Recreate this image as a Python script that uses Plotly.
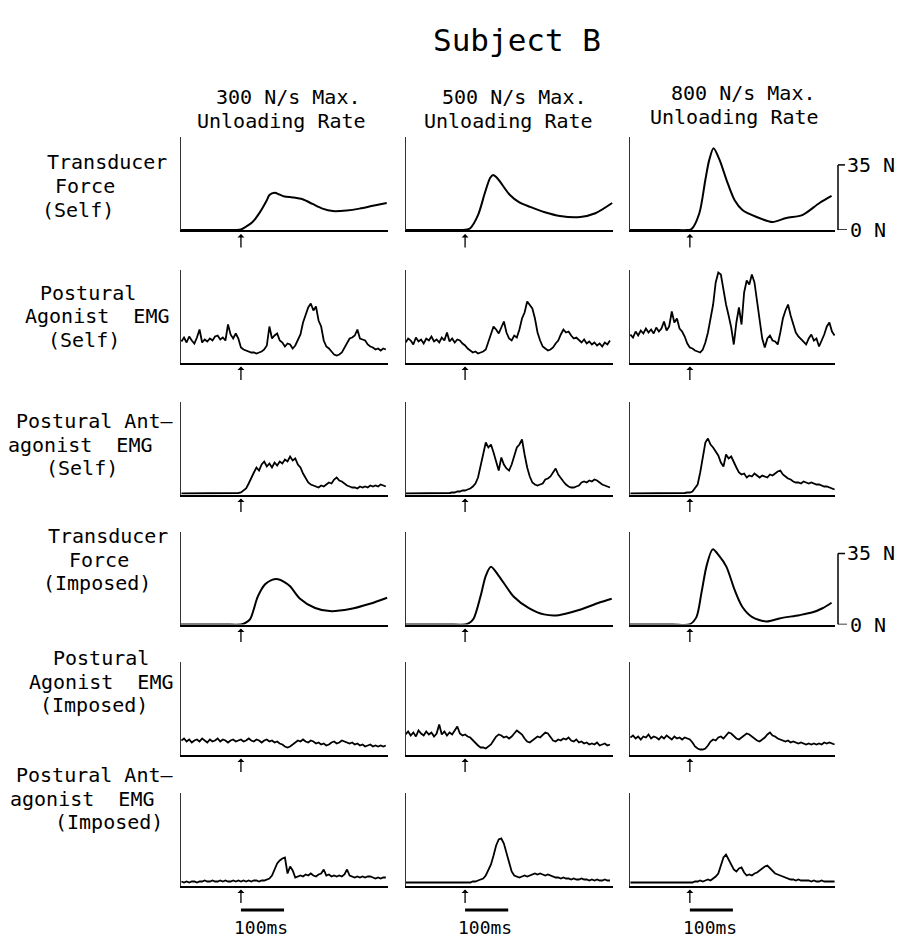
import plotly.graph_objects as go

# ------------------------------------------------------------------ data
title_text = "Subject B"
col_rates = ["300 N/s Max.", "500 N/s Max.", "800 N/s Max."]
col_sub = "Unloading Rate"
row_labels = [
    ["Transducer", "Force", "(Self)"],
    ["Postural", "Agonist  EMG", "(Self)"],
    ["Postural Ant\u2014", "agonist  EMG", "(Self)"],
    ["Transducer", "Force", "(Imposed)"],
    ["Postural", "Agonist  EMG", "(Imposed)"],
    ["Postural Ant\u2014", "agonist  EMG", "(Imposed)"],
]
scale_bar_ms = [0, 100]
scale_bar_label = "100ms"
force_scale_n = [0, 35]
force_scale_labels = ["0 N", "35 N"]

# transducer force (N), time in ms relative to unloading onset
force_self_300_t = [-139, -60, -10, 0, 10, 27, 43, 60, 66, 78, 90, 101, 120, 143, 166, 189, 213, 245, 275, 306, 338]
force_self_300_n = [0, 0, 0, 0.3, 1.5, 4.3, 9.2, 16, 18.8, 20, 19, 18, 17.5, 16.5, 14, 11.5, 10.2, 10.5, 11.5, 13, 14.5]
force_self_500_t = [-137, -40, -5, 5, 12, 30, 46, 58, 65, 72, 81, 104, 125, 151, 185, 220, 267, 302, 341]
force_self_500_n = [0, 0, 0, 0.3, 1, 8, 20, 28, 29.6, 28.5, 26, 18.8, 15, 12.4, 9.5, 7.5, 7, 9, 14.5]
force_self_800_t = [-139, -40, -5, 4, 22, 36, 45, 55, 69, 85, 104, 122, 155, 192, 224, 261, 301, 329]
force_self_800_n = [0, 0, 0, 0.5, 9, 27, 37.7, 44, 37.7, 27, 16, 10.8, 7, 4.3, 6.5, 8, 14.5, 18.3]
force_imp_300_t = [-139, -40, 0, 8, 21, 39, 56, 72, 86, 100, 114, 137, 172, 206, 253, 299, 339]
force_imp_300_n = [0, 0, 0, 0.5, 2.5, 13.7, 19.8, 22, 22.3, 21, 18.8, 12.7, 8.1, 6.6, 7.6, 10.2, 13.2]
force_imp_500_t = [-137, -40, 0, 8, 20, 36, 48, 60, 78, 113, 148, 183, 217, 264, 310, 340]
force_imp_500_n = [0, 0, 0, 0.5, 3, 14, 24, 28.4, 24, 13.7, 8.1, 5, 4.6, 7.1, 10.7, 12.7]
force_imp_800_t = [-139, -40, -1, 15, 27, 39, 53, 69, 85, 104, 122, 145, 178, 208, 254, 285, 308, 329]
force_imp_800_n = [0, 0, 0, 3.5, 15.7, 29, 37, 33.5, 28.4, 17, 8.6, 3.6, 1.5, 3, 4.6, 6, 8, 10.7]

# rectified EMG (arbitrary units), sampled every 6 ms
t_emg = list(range(-138, 337, 6))
agon_self_300 = [21, 25, 20, 26, 22, 19, 25, 33, 20, 23,
                 21, 24, 22, 26, 27, 23, 25, 22, 38, 28,
                 24, 29, 24, 15, 13, 12, 11, 10, 10, 9,
                 10, 11, 13, 17, 36, 24, 27, 29, 22, 20,
                 16, 19, 18, 14, 17, 22, 28, 40, 47, 55,
                 59, 52, 56, 42, 36, 22, 16, 14, 11, 8,
                 7, 8, 10, 15, 20, 24, 25, 27, 33, 24,
                 23, 22, 18, 16, 15, 13, 14, 12, 14, 13]
agon_self_500 = [20, 24, 22, 18, 25, 21, 23, 19, 24, 22,
                 26, 21, 23, 20, 25, 22, 30, 21, 24, 20,
                 23, 22, 19, 17, 14, 12, 10, 11, 9, 10,
                 11, 13, 20, 27, 36, 33, 29, 35, 41, 30,
                 24, 22, 27, 25, 33, 44, 50, 61, 57, 54,
                 44, 30, 22, 16, 14, 12, 13, 15, 19, 22,
                 28, 33, 30, 31, 27, 24, 25, 22, 20, 23,
                 19, 21, 18, 20, 17, 19, 16, 20, 18, 22]
agon_self_800 = [28, 25, 31, 27, 32, 29, 34, 30, 33, 29,
                 35, 31, 34, 41, 32, 36, 51, 40, 44, 34,
                 31, 26, 19, 15, 14, 12, 11, 10, 13, 20,
                 30, 44, 58, 80, 90, 88, 72, 58, 47, 35,
                 18, 40, 55, 38, 70, 82, 78, 88, 80, 62,
                 45, 24, 15, 24, 27, 22, 21, 18, 30, 44,
                 52, 58, 47, 38, 30, 26, 23, 20, 18, 24,
                 28, 22, 24, 16, 22, 28, 36, 40, 31, 27]
antag_self_300 = [1, 1, 1, 1, 1, 1, 1, 1, 1, 1,
                  1, 1, 1, 1, 1, 1, 1, 1, 1, 1,
                  1, 1, 1.5, 2, 4, 6, 11, 17, 22, 27,
                  24, 30, 33, 28, 31, 27, 32, 29, 33, 31,
                  35, 33, 38, 34, 36, 30, 27, 21, 16, 12,
                  10, 9, 8, 7, 9, 8, 10, 12, 11, 15,
                  17, 14, 13, 11, 9, 8, 7, 7, 6, 8,
                  7, 8, 7, 9, 8, 9, 8, 10, 9, 8]
antag_self_500 = [1, 1, 1, 1, 1, 1, 1, 1, 1, 1,
                  1, 1, 1, 1, 1, 1, 1, 1.5, 2, 2,
                  3, 3, 4, 4, 5, 6, 8, 11, 17, 28,
                  42, 52, 47, 50, 42, 34, 24, 37, 30, 26,
                  24, 30, 39, 47, 50, 55, 40, 27, 18, 12,
                  10, 9, 10, 11, 15, 16, 18, 22, 26, 20,
                  16, 13, 10, 8, 7, 7, 8, 9, 12, 13,
                  12, 14, 13, 15, 14, 12, 10, 9, 8, 7]
antag_self_800 = [1, 1, 1, 1, 1, 1, 1, 1, 1, 1,
                  1, 1, 1, 1, 1, 1, 1, 1, 1, 1,
                  1, 1.5, 2, 2, 3, 6, 10, 22, 36, 52,
                  56, 50, 47, 43, 39, 32, 28, 40, 36, 38,
                  32, 27, 22, 20, 21, 17, 19, 18, 21, 19,
                  17, 19, 18, 17, 20, 19, 21, 23, 24, 20,
                  18, 16, 15, 13, 12, 12, 11, 13, 12, 11,
                  12, 11, 10, 10, 9, 8, 8, 7, 6, 5]
agon_imp_300 = [14, 16, 13, 15, 12, 14, 15, 13, 16, 14,
                12, 15, 13, 14, 16, 13, 15, 14, 12, 14,
                15, 13, 14, 15, 13, 14, 16, 14, 13, 15,
                14, 12, 14, 15, 13, 14, 12, 13, 11, 10,
                8, 7, 8, 10, 12, 14, 13, 15, 13, 12,
                14, 13, 11, 12, 10, 11, 9, 10, 12, 13,
                11, 12, 14, 13, 12, 11, 12, 10, 11, 9,
                10, 8, 9, 10, 8, 9, 8, 9, 8, 9]
agon_imp_500 = [20, 23, 19, 22, 18, 24, 21, 19, 23, 20,
                22, 18, 21, 30, 20, 23, 19, 22, 20, 24,
                28, 21, 19, 20, 18, 17, 14, 11, 9, 7,
                7, 6, 8, 10, 14, 18, 20, 19, 17, 18,
                16, 18, 21, 24, 22, 20, 16, 13, 12, 14,
                16, 18, 17, 20, 22, 21, 17, 14, 13, 15,
                14, 16, 15, 17, 14, 13, 15, 12, 13, 11,
                12, 10, 11, 10, 12, 9, 10, 11, 9, 10]
agon_imp_800 = [17, 19, 16, 18, 15, 18, 17, 20, 16, 18,
                17, 15, 18, 16, 19, 17, 15, 18, 16, 17,
                15, 17, 16, 15, 12, 8, 6, 5, 5, 6,
                9, 13, 15, 14, 17, 18, 16, 19, 22, 21,
                18, 16, 15, 17, 19, 21, 20, 18, 16, 14,
                13, 15, 17, 20, 22, 19, 18, 16, 15, 14,
                13, 14, 12, 13, 12, 11, 12, 11, 10, 11,
                10, 11, 10, 11, 10, 12, 11, 12, 11, 10]
antag_imp_300 = [4, 3, 4, 3, 4, 4, 3, 4, 4, 5,
                 4, 4, 5, 4, 4, 5, 4, 5, 4, 4,
                 5, 4, 5, 4, 5, 4, 5, 4, 5, 5,
                 4, 5, 5, 6, 7, 10, 16, 22, 25, 27,
                 28, 12, 19, 15, 8, 9, 10, 9, 11, 10,
                 12, 10, 9, 11, 12, 16, 10, 11, 9, 10,
                 9, 10, 9, 11, 16, 10, 9, 8, 9, 8,
                 9, 8, 9, 9, 8, 7, 8, 7, 8, 8]
antag_imp_500 = [3, 3, 3, 3, 3, 3, 3, 3, 3, 3,
                 3, 3, 3, 3, 3, 3, 3, 3, 3, 3,
                 3, 3, 3, 3, 3, 3, 4, 4, 5, 6,
                 7, 10, 15, 21, 30, 40, 46, 47, 42, 33,
                 22, 14, 10, 9, 8, 9, 10, 9, 10, 11,
                 12, 11, 12, 11, 10, 11, 10, 9, 8, 8,
                 7, 8, 7, 7, 6, 7, 6, 6, 7, 6,
                 6, 5, 6, 5, 6, 5, 5, 6, 5, 5]
antag_imp_800 = [3, 3, 3, 3, 3, 3, 3, 3, 3, 3,
                 3, 3, 3, 3, 3, 3, 3, 3, 3, 3,
                 3, 3, 3, 3, 3, 4, 4, 5, 4, 5,
                 6, 5, 7, 9, 12, 20, 28, 31, 26, 20,
                 16, 14, 17, 18, 13, 10, 11, 10, 12, 13,
                 15, 17, 19, 20, 17, 15, 12, 11, 10, 9,
                 8, 7, 6, 6, 5, 6, 5, 5, 5, 5,
                 4, 5, 4, 4, 5, 4, 4, 4, 4, 4]

# ------------------------------------------------------------------ layout geometry (pixels)
W, H = 903, 939
FONT = "DejaVu Sans Mono"
COL_L = [181, 406, 630]
COL_R = [388, 613, 835]
X_RANGES = [[-139, 341], [-137, 343], [-139, 337]]
ROW_B = [230, 362.5, 494.5, 624.5, 754.5, 885.5]
PANEL_H = 93
Y_RANGES = [[0, 50], [0, 93], [0, 93], [0, 45.8], [0, 93], [0, 93]]

label_pos = [
    [(107, 162), (85, 186), (78, 209.5)],
    [(88, 292.5), (97, 316), (84, 339.5)],
    [(94, 421), (80, 444.5), (82, 468)],
    [(108, 536), (99, 559.5), (97, 583)],
    [(101, 658), (101, 681.5), (94, 705)],
    [(94, 775), (82, 798.5), (109, 822)],
]
header_pos = [[(288, 97), (281, 121)], [(514, 97), (509, 121)], [(743, 93), (734, 117)]]
LABEL_SIZE = 20


def px(x):
    return x / W


def py(y):
    return 1 - y / H


panel_data = [
    [(force_self_300_t, force_self_300_n), (force_self_500_t, force_self_500_n), (force_self_800_t, force_self_800_n)],
    [(t_emg, agon_self_300), (t_emg, agon_self_500), (t_emg, agon_self_800)],
    [(t_emg, antag_self_300), (t_emg, antag_self_500), (t_emg, antag_self_800)],
    [(force_imp_300_t, force_imp_300_n), (force_imp_500_t, force_imp_500_n), (force_imp_800_t, force_imp_800_n)],
    [(t_emg, agon_imp_300), (t_emg, agon_imp_500), (t_emg, agon_imp_800)],
    [(t_emg, antag_imp_300), (t_emg, antag_imp_500), (t_emg, antag_imp_800)],
]
force_rows = {0, 3}

fig = go.Figure()
layout = dict(
    width=W, height=H, autosize=False,
    margin=dict(l=0, r=0, t=0, b=0),
    paper_bgcolor="white", plot_bgcolor="white",
    showlegend=False,
    font=dict(family=FONT, color="black"),
)
annotations = []
shapes = []

for r in range(6):
    for c in range(3):
        k = r * 3 + c + 1
        s = "" if k == 1 else str(k)
        layout["xaxis" + s] = dict(
            domain=[px(COL_L[c]), px(COL_R[c])], range=X_RANGES[c], anchor="y" + s,
            showline=True, linewidth=2, linecolor="black", showgrid=False,
            zeroline=False, showticklabels=False, ticks="", fixedrange=True,
        )
        layout["yaxis" + s] = dict(
            domain=[py(ROW_B[r]), py(ROW_B[r] - PANEL_H)], range=Y_RANGES[r], anchor="x" + s,
            showline=True, linewidth=1, linecolor="#333", showgrid=False,
            zeroline=False, showticklabels=False, ticks="", fixedrange=True,
        )
        tx, vy = panel_data[r][c]
        if r in force_rows:
            line = dict(color="black", width=2, shape="spline", smoothing=0.8)
        else:
            line = dict(color="black", width=1.8, shape="linear")
        fig.add_trace(go.Scatter(x=tx, y=vy, mode="lines", line=line,
                                 xaxis="x" + s, yaxis="y" + s, hoverinfo="skip"))
        # stimulus arrow
        annotations.append(dict(
            x=0, y=0, xref="x" + s, yref="y" + s, ax=0, ay=19, text="",
            showarrow=True, arrowhead=1, arrowsize=0.9, arrowwidth=1.3,
            arrowcolor="black", standoff=4,
        ))
        if r == 5:
            shapes.append(dict(type="line", xref="x" + s, yref="paper",
                               x0=scale_bar_ms[0], x1=scale_bar_ms[1], y0=py(910), y1=py(910),
                               line=dict(color="black", width=3)))
            annotations.append(dict(
                x=(scale_bar_ms[0] + scale_bar_ms[1]) / 2 - 3, y=py(927), xref="x" + s, yref="paper",
                text=scale_bar_label, showarrow=False, font=dict(size=18, family=FONT),
                xanchor="center", yanchor="middle", borderpad=0,
            ))

# force calibration brackets (35 N)
for r in force_rows:
    k = r * 3 + 3
    ys = "y" + str(k)
    shapes.append(dict(type="line", xref="paper", yref=ys, x0=px(838), x1=px(838),
                       y0=force_scale_n[0], y1=force_scale_n[1], line=dict(color="black", width=1.5)))
    shapes.append(dict(type="line", xref="paper", yref=ys, x0=px(838), x1=px(845),
                       y0=force_scale_n[1], y1=force_scale_n[1], line=dict(color="black", width=1.5)))
    shapes.append(dict(type="line", xref="paper", yref=ys, x0=px(838), x1=px(847),
                       y0=force_scale_n[0], y1=force_scale_n[0], line=dict(color="black", width=1.5)))
    annotations.append(dict(x=px(846), y=force_scale_n[1], xref="paper", yref=ys,
                            text=force_scale_labels[1], showarrow=False, xanchor="left",
                            yanchor="middle", font=dict(size=20, family=FONT), borderpad=0))
    annotations.append(dict(x=px(849), y=force_scale_n[0], xref="paper", yref=ys,
                            text=force_scale_labels[0], showarrow=False, xanchor="left",
                            yanchor="middle", font=dict(size=20, family=FONT), borderpad=0))

# title
annotations.append(dict(x=px(517), y=py(40), xref="paper", yref="paper", text=title_text,
                        showarrow=False, xanchor="center", yanchor="middle",
                        font=dict(size=31, family=FONT)))
# column headers
for c in range(3):
    for j, txt in enumerate([col_rates[c], col_sub]):
        cx, cy = header_pos[c][j]
        annotations.append(dict(x=px(cx), y=py(cy), xref="paper", yref="paper", text=txt,
                                showarrow=False, xanchor="center", yanchor="middle",
                                font=dict(size=LABEL_SIZE, family=FONT), borderpad=0))
# row labels
for r in range(6):
    for j, txt in enumerate(row_labels[r]):
        cx, cy = label_pos[r][j]
        annotations.append(dict(x=px(cx), y=py(cy), xref="paper", yref="paper", text=txt,
                                showarrow=False, xanchor="center", yanchor="middle",
                                font=dict(size=LABEL_SIZE, family=FONT), borderpad=0))

layout["annotations"] = annotations
layout["shapes"] = shapes
fig.update_layout(**layout)
fig.write_html("out.html", config={"displayModeBar": False, "staticPlot": True},
               post_script="document.body.style.margin='0px';")
